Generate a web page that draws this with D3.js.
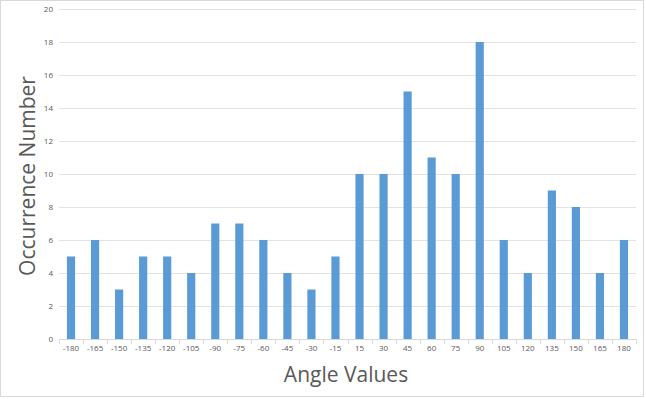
<!DOCTYPE html>
<html>
<head>
<meta charset="utf-8">
<script src="https://cdn.jsdelivr.net/npm/d3@7"></script>
<style>
  html, body { margin: 0; padding: 0; background: #fff; }
  svg { display: block; font-family: "Open Sans", "Liberation Sans", sans-serif; }
</style>
</head>
<body>
<svg id="chart" width="646" height="399"></svg>
<script>
// 角度类别与出现次数
const angles = [-180, -165, -150, -135, -120, -105, -90, -75, -60, -45, -30, -15,
                15, 30, 45, 60, 75, 90, 105, 120, 135, 150, 165, 180];
const counts = [5, 6, 3, 5, 5, 4, 7, 7, 6, 4, 3, 5,
                10, 10, 15, 11, 10, 18, 6, 4, 9, 8, 4, 6];
const yTicks = [0, 2, 4, 6, 8, 10, 12, 14, 16, 18, 20];

const W = 646, H = 399;
const m = { left: 59, right: 10, top: 9, bottom: 60 };
const svg = d3.select("#chart");

// 外框
svg.append("rect").attr("x", 0.5).attr("y", 0.5).attr("width", W - 3).attr("height", H - 3)
  .attr("fill", "#fff").attr("stroke", "#d9d9d9");

const x = d3.scaleBand().domain(angles).range([m.left, W - m.right]).paddingInner(0.66).paddingOuter(0.33);
const y = d3.scaleLinear().domain([0, 20]).range([H - m.bottom, m.top]);

// 网格线
svg.append("g").selectAll("line").data(yTicks.filter(d => d > 0)).join("line")
  .attr("x1", m.left).attr("x2", W - m.right)
  .attr("y1", d => y(d) + 0.5).attr("y2", d => y(d) + 0.5)
  .attr("stroke", "#e3e3e3").attr("stroke-width", 1);

// y 轴标签
svg.append("g").selectAll("text").data(yTicks).join("text")
  .attr("x", m.left - 6).attr("y", d => y(d) + 3)
  .attr("text-anchor", "end").attr("fill", "#595959")
  .style("font-size", "8px").text(d => d);

// 柱
svg.append("g").selectAll("rect").data(angles).join("rect")
  .attr("x", d => x(d)).attr("width", x.bandwidth())
  .attr("y", (d, i) => y(counts[i])).attr("height", (d, i) => y(0) - y(counts[i]))
  .attr("fill", "#5b9bd5");

// x 轴
const step = x.step();
const xa = svg.append("g");
xa.append("line").attr("x1", m.left).attr("x2", W - m.right)
  .attr("y1", y(0) + 0.5).attr("y2", y(0) + 0.5).attr("stroke", "#d9d9d9");
xa.selectAll("line.t").data(d3.range(angles.length + 1)).join("line").attr("class", "t")
  .attr("x1", i => Math.round(m.left + i * step) + 0.5).attr("x2", i => Math.round(m.left + i * step) + 0.5)
  .attr("y1", y(0)).attr("y2", y(0) + 5).attr("stroke", "#d9d9d9");
xa.selectAll("text").data(angles).join("text")
  .attr("x", d => x(d) + x.bandwidth() / 2).attr("y", y(0) + 12)
  .attr("text-anchor", "middle").attr("fill", "#595959")
  .style("font-size", "8px").text(d => d);

// 轴标题
svg.append("text").attr("x", 346).attr("y", 382).attr("text-anchor", "middle")
  .attr("fill", "#595959").style("font-size", "21px").text("Angle Values");
svg.append("text").attr("transform", "translate(35,176) rotate(-90)").attr("text-anchor", "middle")
  .attr("fill", "#595959").style("font-size", "21px").text("Occurrence Number");
</script>
</body>
</html>
